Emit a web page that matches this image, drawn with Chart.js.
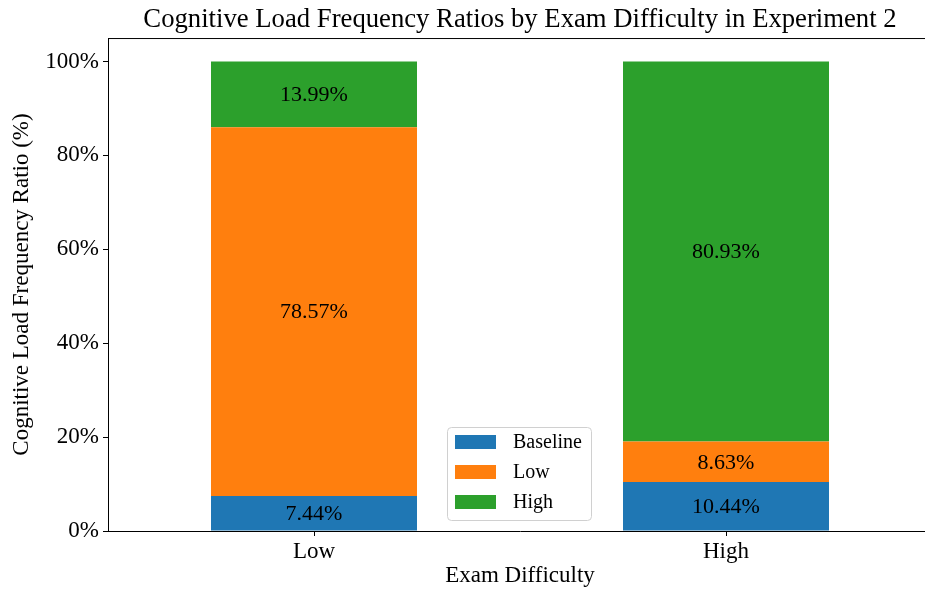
<!DOCTYPE html>
<html>
<head>
<meta charset="utf-8">
<script src="https://cdn.jsdelivr.net/npm/chart.js@4"></script>
<style>
  html, body { margin: 0; padding: 0; overflow: hidden; background: #fff; }
  #wrap { width: 932px; height: 594px; }
</style>
</head>
<body>
<div id="wrap"><canvas id="chart"></canvas></div>
<script>
const categories = ["Low", "High"];
const seriesNames = ["Baseline", "Low", "High"];
const baselineValues = [7.44, 10.44];
const lowValues = [78.57, 8.63];
const highValues = [13.99, 80.93];
const yTicks = [0, 20, 40, 60, 80, 100];
const colors = ["#1f77b4", "#ff7f0e", "#2ca02c"];
const FONT = "'Liberation Serif', 'Times New Roman', serif";

// percent labels in the middle of each segment
const barLabels = {
  id: "barLabels",
  afterDatasetsDraw(chart) {
    const ctx = chart.ctx;
    ctx.save();
    ctx.font = "22px " + FONT;
    ctx.fillStyle = "#000";
    ctx.textAlign = "center";
    ctx.textBaseline = "middle";
    chart.data.datasets.forEach((ds, i) => {
      chart.getDatasetMeta(i).data.forEach((bar, j) => {
        const mid = (bar.y + bar.base) / 2;
        ctx.fillText(ds.data[j].toFixed(2) + "%", bar.x, mid + 1);
      });
    });
    ctx.restore();
  },
};

// top spine + matplotlib style legend inside the plot
const frameAndLegend = {
  id: "frameAndLegend",
  afterDraw(chart) {
    const ctx = chart.ctx;
    const a = chart.chartArea;
    ctx.save();
    ctx.strokeStyle = "#000";
    ctx.lineWidth = 1;
    ctx.beginPath();
    ctx.moveTo(a.left, a.top + 0.5);
    ctx.lineTo(a.right, a.top + 0.5);
    ctx.stroke();

    const w = 144, h = 93;
    const x = Math.round((a.left + a.right) / 2 - w / 2) - 1;
    const y = Math.round(a.bottom - 11 - h);
    ctx.fillStyle = "rgba(255,255,255,0.8)";
    ctx.strokeStyle = "#d0d0d0";
    ctx.beginPath();
    ctx.roundRect(x + 0.5, y + 0.5, w, h, 4);
    ctx.fill();
    ctx.stroke();

    ctx.font = "20px " + FONT;
    ctx.textBaseline = "middle";
    ctx.textAlign = "left";
    chart.data.datasets.forEach((ds, i) => {
      const cy = y + 15 + i * 30;
      ctx.fillStyle = ds.backgroundColor;
      ctx.fillRect(x + 8, cy - 7, 41, 14);
      ctx.fillStyle = "#000";
      ctx.fillText(ds.label, x + 66, cy + 1);
    });
    ctx.restore();
  },
};

new Chart(document.getElementById("chart"), {
  type: "bar",
  data: {
    labels: categories,
    datasets: [
      { label: seriesNames[0], data: baselineValues, backgroundColor: colors[0] },
      { label: seriesNames[1], data: lowValues, backgroundColor: colors[1] },
      { label: seriesNames[2], data: highValues, backgroundColor: colors[2] },
    ],
  },
  options: {
    animation: false,
    responsive: true,
    maintainAspectRatio: false,
    layout: { padding: { left: 8, right: 0, top: 0, bottom: 4 } },
    datasets: {
      bar: { categoryPercentage: 1.0, barPercentage: 0.5 },
    },
    scales: {
      x: {
        stacked: true,
        offset: true,
        afterFit(scale) { scale.height = 59; },
        grid: { display: true, drawOnChartArea: false, drawTicks: true, tickLength: 5, color: "#000", offset: false },
        border: { display: true, color: "#000", width: 1 },
        ticks: { color: "#000", font: { family: FONT, size: 23 }, padding: 2 },
        title: { display: true, text: "Exam Difficulty", color: "#000", font: { family: FONT, size: 23 }, padding: { top: 0, bottom: 0 } },
      },
      y: {
        stacked: true,
        min: 0,
        max: 105,
        afterFit(scale) { scale.width = 100; },
        afterBuildTicks(scale) {
          scale.ticks = yTicks.map((v) => ({ value: v }));
        },
        grid: { display: true, drawOnChartArea: false, drawTicks: true, tickLength: 5, color: "#000" },
        border: { display: true, color: "#000", width: 1 },
        ticks: {
          color: "#000",
          font: { family: FONT, size: 23 },
          padding: 4,
          callback: (v) => v + "%",
        },
        title: { display: true, text: "Cognitive Load Frequency Ratio (%)", color: "#000", font: { family: FONT, size: 23 }, padding: { top: 0, bottom: 4 } },
      },
    },
    plugins: {
      legend: { display: false },
      tooltip: { enabled: false },
      title: {
        display: true,
        fullSize: false,
        text: "Cognitive Load Frequency Ratios by Exam Difficulty in Experiment 2",
        color: "#000",
        font: { family: FONT, size: 26.7, weight: "normal" },
        padding: { top: 4, bottom: 2 },
      },
    },
  },
  plugins: [barLabels, frameAndLegend],
});
</script>
</body>
</html>
